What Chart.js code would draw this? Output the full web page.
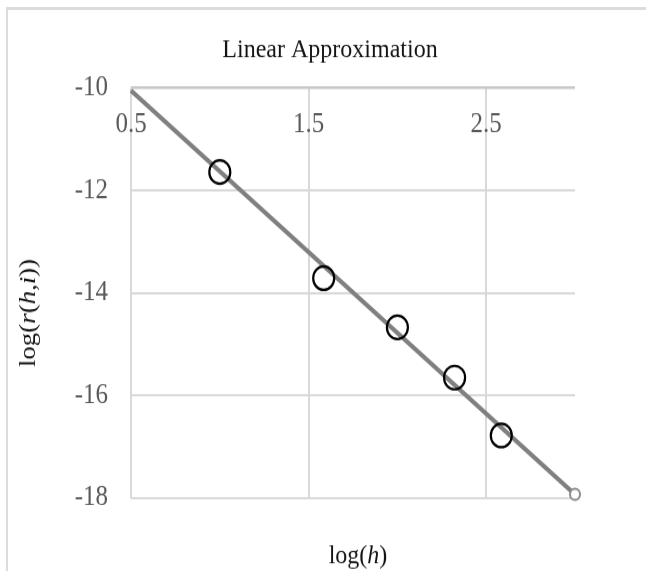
<!DOCTYPE html>
<html>
<head>
<meta charset="utf-8">
<script src="https://cdn.jsdelivr.net/npm/chart.js@4/dist/chart.umd.min.js"></script>
<style>
  html, body { margin: 0; padding: 0; background: #fff; }
  #wrap { position: relative; width: 646px; height: 571px; overflow: hidden; }
  #frame { position: absolute; left: 6px; top: 7px; width: 720px; height: 640px;
           border-top: 3px solid #dcdcdc; border-left: 2px solid #dcdcdc; }
  /* the drawing is stretched slightly in height */
  #stage { position: absolute; left: 0; top: 0; width: 646px; height: 510px;
           transform: scaleY(1.1196); transform-origin: 0 0; }
  #c { display: block; }
</style>
</head>
<body>
<div id="wrap">
  <div id="frame"></div>
  <div id="stage"><canvas id="c" width="646" height="510"></canvas></div>
</div>
<script>
// Measured residuals against log(h)
const logH      = [1.0, 1.585, 2.0, 2.322, 2.585];
const logR      = [-11.64, -13.71, -14.67, -15.65, -16.78];

// Fitted straight line, drawn between its two end points
const fitX      = [0.5, 3.0];
const fitY      = [-10.05, -17.93];

// Axis ticks
const xTicks    = [0.5, 1.5, 2.5];
const xTickText = ['0.5', '1.5', '2.5'];
const yTicks    = [-18, -16, -14, -12, -10];

// Titles (segments flagged true are set in italics)
const chartTitle = 'Linear Approximation';
const xTitle = [['log(', false], ['h', true], [')', false]];
const yTitle = [['log(', false], ['r', true], ['(', false], ['h', true], [',', false], ['i', true], ['))', false]];

const SERIF = '"Liberation Serif", "Times New Roman", serif';
const GRID = '#d9d9d9';
const TICK_COLOR = '#595959';
const TEXT_COLOR = '#141414';

function drawRich(ctx, segs, size, color) {
  // measure, then draw centred on the current origin
  let total = 0;
  const widths = segs.map(([t, it]) => {
    ctx.font = (it ? 'italic ' : '') + size + 'px ' + SERIF;
    const w = ctx.measureText(t).width;
    total += w;
    return w;
  });
  let x = -total / 2;
  ctx.fillStyle = color;
  ctx.textAlign = 'left';
  ctx.textBaseline = 'middle';
  segs.forEach(([t, it], i) => {
    ctx.font = (it ? 'italic ' : '') + size + 'px ' + SERIF;
    ctx.fillText(t, x, 0);
    x += widths[i];
  });
}

const labelPlugin = {
  id: 'labelPlugin',
  afterDraw(chart) {
    const ctx = chart.ctx;
    const xs = chart.scales.x;
    const area = chart.chartArea;

    // chart title
    ctx.save();
    ctx.font = '24px ' + SERIF;
    ctx.fillStyle = TEXT_COLOR;
    ctx.textAlign = 'center';
    ctx.textBaseline = 'middle';
    ctx.fillText(chartTitle, 330, 44.5);
    ctx.restore();

    // x tick labels sit just inside the plot, under the top edge
    ctx.save();
    ctx.font = '25px ' + SERIF;
    ctx.fillStyle = TICK_COLOR;
    ctx.textAlign = 'center';
    ctx.textBaseline = 'middle';
    xTicks.forEach((v, i) => {
      ctx.fillText(xTickText[i], xs.getPixelForValue(v), area.top + 33);
    });
    ctx.restore();

    // x axis title
    ctx.save();
    ctx.translate(358, 496.5);
    drawRich(ctx, xTitle, 24, TEXT_COLOR);
    ctx.restore();

    // y axis title, rotated
    ctx.save();
    ctx.translate(29, 279.5);
    ctx.rotate(-Math.PI / 2);
    drawRich(ctx, yTitle, 24, TEXT_COLOR);
    ctx.restore();
  }
};

new Chart(document.getElementById('c'), {
  type: 'scatter',
  data: {
    datasets: [
      {
        label: 'log(r(h,i))',
        data: logH.map((x, i) => ({ x: x, y: logR[i] })),
        pointStyle: 'circle',
        pointRadius: 10.5,
        pointHoverRadius: 10.5,
        pointBorderWidth: 2.2,
        pointBorderColor: '#000',
        pointBackgroundColor: 'rgba(0,0,0,0)',
        showLine: false,
        clip: false
      },
      {
        label: 'fit',
        data: fitX.map((x, i) => ({ x: x, y: fitY[i] })),
        showLine: true,
        borderColor: '#808080',
        borderWidth: 4,
        pointRadius: [0, 5],
        pointHoverRadius: [0, 5],
        pointBorderWidth: 2,
        pointBorderColor: '#8c8c8c',
        pointBackgroundColor: '#ffffff',
        clip: false
      }
    ]
  },
  options: {
    responsive: false,
    animation: false,
    events: [],
    layout: { padding: { left: 0, right: 71, top: 78.6, bottom: 65.2 } },
    plugins: {
      legend: { display: false },
      tooltip: { enabled: false },
      title: { display: false }
    },
    scales: {
      x: {
        type: 'linear',
        min: 0.5,
        max: 3.0,
        afterBuildTicks: (s) => { s.ticks = xTicks.map(v => ({ value: v })); },
        afterFit: (s) => { s.height = 0; },
        ticks: { display: false },
        grid: { color: GRID, lineWidth: 2, drawTicks: false },
        border: { display: false }
      },
      y: {
        type: 'linear',
        min: -18,
        max: -10,
        afterBuildTicks: (s) => { s.ticks = yTicks.map(v => ({ value: v })); },
        afterFit: (s) => { s.width = 131; },
        ticks: {
          padding: 23,
          color: TICK_COLOR,
          font: { family: SERIF, size: 25 },
          callback: (v) => String(v)
        },
        grid: {
          color: (c) => (c.tick && c.tick.value === -10 ? '#c8c8c8' : GRID),
          lineWidth: (c) => (c.tick && c.tick.value === -10 ? 2.4 : 2),
          drawTicks: false
        },
        border: { display: false }
      }
    }
  },
  plugins: [labelPlugin]
});
</script>
</body>
</html>
